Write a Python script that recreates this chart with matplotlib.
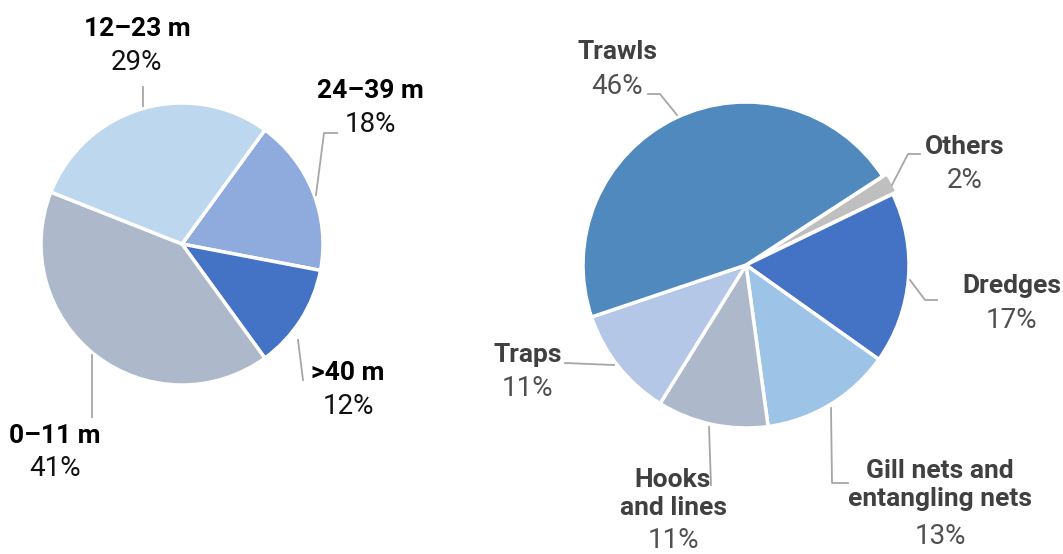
import numpy as np
import matplotlib.pyplot as plt

# ------------------------------------------------------------
# Data
# ------------------------------------------------------------
# Left pie: fleet by vessel length (clockwise from 24-39 m)
len_labels = ["24\u201339 m", ">40 m", "0\u201311 m", "12\u201323 m"]
len_values = [18, 12, 41, 29]
len_colors = ["#8FAADC", "#4472C4", "#ADB9CA", "#BDD7EE"]

# Right pie: fishing gear (clockwise from Others)
gear_labels = ["Others", "Dredges", "Gill nets and\nentangling nets",
               "Hooks\nand lines", "Traps", "Trawls"]
gear_values = [2, 17, 13, 11, 11, 46]
gear_colors = ["#BFBFBF", "#4472C4", "#9DC3E6", "#ADB9CA", "#B4C7E7", "#4F89BE"]

plt.rcParams['font.family'] = ['Roboto', 'DejaVu Sans']

W, H = 1063, 554
fig = plt.figure(figsize=(W / 100, H / 100), dpi=100)
ax = fig.add_axes([0, 0, 1, 1])

wedge = dict(edgecolor='white', linewidth=2.5)

# pies (y axis is inverted, so counterclock=True draws clockwise on screen)
ax.pie(len_values, colors=len_colors, center=(182, 244), radius=141,
       startangle=-54, counterclock=True, wedgeprops=wedge, frame=True)
ax.pie(gear_values, colors=gear_colors, center=(746, 265), radius=163,
       startangle=-33, counterclock=True, wedgeprops=wedge, frame=True,
       explode=[5, 0, 0, 0, 0, 0])
ax.set_xlim(0, W)
ax.set_ylim(H, 0)
ax.set_aspect('equal')
ax.axis('off')

line_kw = dict(color='#A6A6A6', lw=1.3)


def label(x, y_name, y_pct, name, pct, color, pct_color):
    ax.text(x, y_name, name, ha='center', va='center', fontsize=19,
            fontweight='bold', color=color, linespacing=1.2)
    ax.text(x, y_pct, pct, ha='center', va='center', fontsize=20,
            color=pct_color)


# left labels
label(137, 29, 62, len_labels[3], f"{len_values[3]}%", 'black', '#111111')
ax.plot([143, 143], [87, 106], **line_kw)
label(370, 91, 125, len_labels[0], f"{len_values[0]}%", 'black', '#111111')
ax.plot([337, 324, 316], [133, 133, 195], **line_kw)
label(348, 373, 407, len_labels[1], f"{len_values[1]}%", 'black', '#111111')
ax.plot([298, 303], [340, 380], **line_kw)
label(55, 436, 468, len_labels[2], f"{len_values[2]}%", 'black', '#111111')
ax.plot([92, 92], [355, 417], **line_kw)

# right labels
dk, gr = '#404040', '#505050'
label(617, 52, 87, gear_labels[5], f"{gear_values[5]}%", dk, gr)
ax.plot([648, 660, 677], [94, 94, 115], **line_kw)
label(965, 147, 181, gear_labels[0], f"{gear_values[0]}%", dk, gr)
ax.plot([920, 908, 892], [154, 154, 185], **line_kw)
label(1012, 286, 320, gear_labels[1], f"{gear_values[1]}%", dk, gr)
ax.plot([937, 925, 910], [300, 300, 280], **line_kw)
label(528, 355, 388, gear_labels[4], f"{gear_values[4]}%", dk, gr)
ax.plot([565, 614], [363, 365], **line_kw)
label(673, 494, 541, gear_labels[3], f"{gear_values[3]}%", dk, gr)
ax.plot([709, 711], [427, 485], **line_kw)
label(940, 485, 536, gear_labels[2], f"{gear_values[2]}%", dk, gr)
ax.plot([831, 832, 848], [408, 483, 483], **line_kw)

fig.savefig("out.png", dpi=100, facecolor='white')
